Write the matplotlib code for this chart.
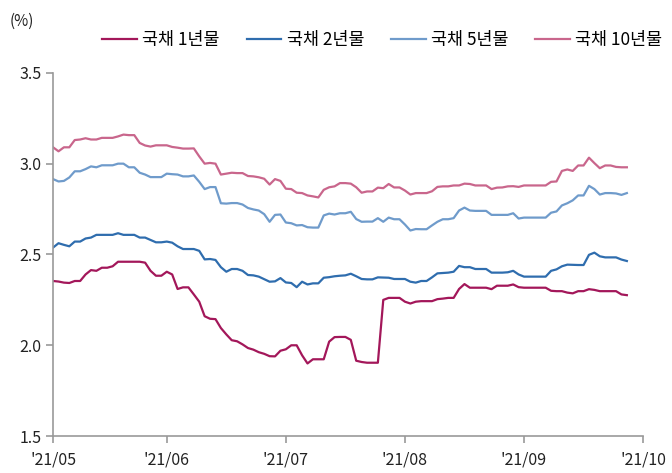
import matplotlib
matplotlib.use("Agg")
import matplotlib.pyplot as plt
import numpy as np
import pandas as pd

plt.rcParams['font.family'] = ['Noto Sans CJK KR', 'DejaVu Sans']

# weekdays from 2021-05-03 to 2021-09-28 (one point per day on a category axis)
dates = pd.bdate_range("2021-05-03", "2021-09-28")

y1 = [2.354, 2.351, 2.345, 2.343, 2.354, 2.354, 2.39, 2.414, 2.41, 2.427,
      2.427, 2.435, 2.46, 2.46, 2.46, 2.46, 2.46, 2.455, 2.41, 2.383,
      2.383, 2.405, 2.39, 2.31, 2.319, 2.319, 2.28, 2.24, 2.16, 2.146,
      2.144, 2.095, 2.06, 2.028, 2.022, 2.005, 1.985, 1.976, 1.962, 1.953,
      1.94, 1.939, 1.97, 1.978, 2.0, 2.0, 1.945, 1.90, 1.923, 1.923,
      1.923, 2.02, 2.045, 2.046, 2.046, 2.03, 1.915, 1.908, 1.904, 1.904,
      1.904, 2.25, 2.261, 2.261, 2.261, 2.24, 2.23, 2.24, 2.243, 2.243,
      2.243, 2.254, 2.257, 2.261, 2.261, 2.31, 2.337, 2.317, 2.317, 2.317,
      2.317, 2.309, 2.328, 2.328, 2.328, 2.335, 2.32, 2.317, 2.317, 2.317,
      2.317, 2.317, 2.30, 2.298, 2.298, 2.29, 2.286, 2.298, 2.298, 2.309,
      2.305, 2.298, 2.298, 2.298, 2.298, 2.28, 2.276]

y2 = [2.538, 2.562, 2.553, 2.545, 2.571, 2.571, 2.588, 2.593, 2.608, 2.608,
      2.608, 2.608, 2.617, 2.608, 2.608, 2.608, 2.593, 2.593, 2.58, 2.567,
      2.567, 2.571, 2.565, 2.545, 2.53, 2.53, 2.53, 2.52, 2.473, 2.475,
      2.47, 2.43, 2.405, 2.42, 2.42, 2.41, 2.387, 2.385, 2.378, 2.364,
      2.35, 2.352, 2.37, 2.346, 2.343, 2.32, 2.35, 2.335, 2.341, 2.341,
      2.372, 2.375, 2.38, 2.383, 2.385, 2.394, 2.38, 2.365, 2.363, 2.363,
      2.374, 2.373, 2.372, 2.365, 2.365, 2.365, 2.35, 2.345, 2.354, 2.354,
      2.374, 2.396, 2.398, 2.40, 2.405, 2.437, 2.43, 2.43, 2.42, 2.42,
      2.42, 2.40, 2.40, 2.40, 2.402, 2.41, 2.39, 2.378, 2.378, 2.378,
      2.378, 2.378, 2.41, 2.418, 2.435, 2.444, 2.443, 2.442, 2.442, 2.498,
      2.51, 2.49, 2.484, 2.484, 2.484, 2.472, 2.464]

y5 = [2.915, 2.902, 2.905, 2.924, 2.958, 2.958, 2.97, 2.985, 2.98, 2.991,
      2.991, 2.991, 3.0, 3.0, 2.98, 2.98, 2.95, 2.94, 2.926, 2.926,
      2.926, 2.945, 2.942, 2.94, 2.93, 2.93, 2.935, 2.90, 2.86, 2.871,
      2.871, 2.782, 2.78, 2.783, 2.783, 2.775, 2.756, 2.748, 2.742, 2.722,
      2.68, 2.718, 2.72, 2.676, 2.672, 2.66, 2.662, 2.65, 2.648, 2.648,
      2.715, 2.725, 2.72, 2.727, 2.727, 2.735, 2.695, 2.68, 2.681, 2.681,
      2.70, 2.68, 2.703, 2.694, 2.694, 2.665, 2.632, 2.64, 2.639, 2.639,
      2.66, 2.68, 2.694, 2.694, 2.70, 2.742, 2.758, 2.742, 2.74, 2.74,
      2.74, 2.718, 2.718, 2.718, 2.718, 2.727, 2.698, 2.703, 2.703, 2.703,
      2.703, 2.703, 2.73, 2.737, 2.77, 2.782, 2.798, 2.825, 2.825, 2.878,
      2.86, 2.83, 2.838, 2.838, 2.836, 2.828, 2.838]

y10 = [3.09, 3.068, 3.09, 3.09, 3.13, 3.133, 3.14, 3.133, 3.133, 3.142,
       3.142, 3.142, 3.15, 3.16, 3.157, 3.157, 3.114, 3.10, 3.094, 3.101,
       3.101, 3.101, 3.092, 3.088, 3.083, 3.083, 3.084, 3.04, 3.0, 3.004,
       3.0, 2.94, 2.945, 2.95, 2.948, 2.948, 2.932, 2.93, 2.925, 2.917,
       2.885, 2.915, 2.905, 2.862, 2.86, 2.84, 2.838, 2.825, 2.82, 2.814,
       2.856, 2.87, 2.875, 2.893, 2.893, 2.89, 2.87, 2.84, 2.847, 2.847,
       2.868, 2.865, 2.888, 2.869, 2.869, 2.852, 2.83, 2.838, 2.838, 2.838,
       2.848, 2.872, 2.875, 2.875, 2.88, 2.88, 2.89, 2.888, 2.88, 2.88,
       2.88, 2.86, 2.868, 2.869, 2.875, 2.876, 2.872, 2.88, 2.88, 2.88,
       2.88, 2.88, 2.90, 2.902, 2.96, 2.968, 2.96, 2.99, 2.99, 3.033,
       3.003, 2.975, 2.99, 2.99, 2.982, 2.98, 2.98]

labels = ["국채 1년물", "국채 2년물", "국채 5년물", "국채 10년물"]
colors = ["#A3175A", "#2F6DAE", "#6F9BCB", "#C9668C"]
xtick_labels = ["'21/05", "'21/06", "'21/07", "'21/08", "'21/09", "'21/10"]
month_starts = ["2021-05-01", "2021-06-01", "2021-07-01", "2021-08-01", "2021-09-01", "2021-10-01"]

x = np.arange(len(dates))
# index of first weekday in each month (Oct 1 sits past the data)
all_days = pd.bdate_range("2021-05-03", "2021-10-01")
tick_pos = [int(np.searchsorted(all_days, pd.Timestamp(m))) for m in month_starts]

fig = plt.figure(figsize=(6.72, 4.73), dpi=100)
ax = fig.add_axes([0.079, 0.078, 0.878, 0.768])

for ys, lab, c in zip([y1, y2, y5, y10], labels, colors):
    ax.plot(x, ys, color=c, lw=1.6, label=lab)

ax.set_ylim(1.5, 3.5)
ax.set_yticks([1.5, 2.0, 2.5, 3.0, 3.5])
ax.set_yticklabels(["1.5", "2.0", "2.5", "3.0", "3.5"])
ax.set_xlim(0, tick_pos[-1])
ax.set_xticks(tick_pos)
ax.set_xticklabels(xtick_labels)

for s in ["top", "right"]:
    ax.spines[s].set_visible(False)
for s in ["left", "bottom"]:
    ax.spines[s].set_color("#999999")
    ax.spines[s].set_linewidth(1.2)
ax.tick_params(axis="both", direction="out", length=5, width=1.2, color="#999999",
               labelsize=11.5, labelcolor="#222222")
ax.tick_params(axis="x", pad=6)

fig.text(0.015, 0.945, "(%)", fontsize=11, color="#222222")
fig.legend(loc="center", bbox_to_anchor=(0.569, 0.915), ncol=4, frameon=False,
           fontsize=12.5, handlelength=2.0, handletextpad=0.3, columnspacing=1.55)

fig.savefig("out.png", dpi=100)
